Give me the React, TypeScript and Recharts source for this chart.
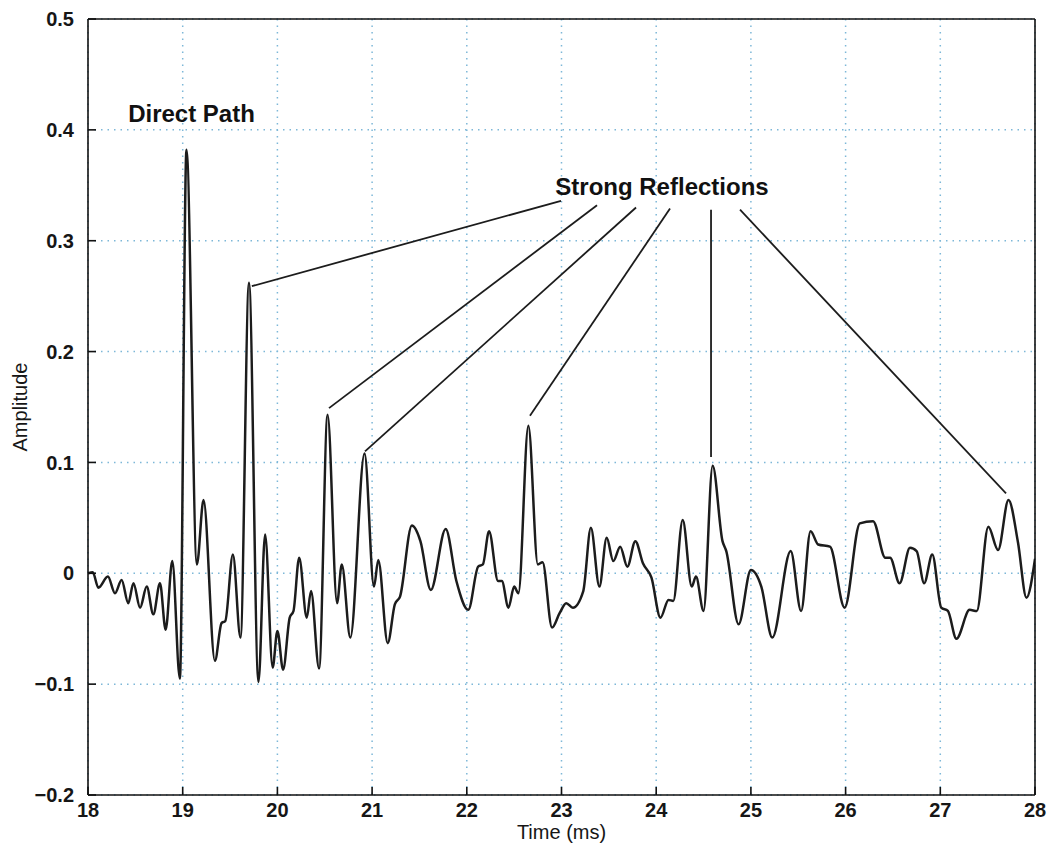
import React from 'react';
import {
  LineChart,
  Line,
  XAxis,
  YAxis,
  CartesianGrid,
  ReferenceLine,
  ReferenceDot,
  Label,
} from 'recharts';

// Time axis (ms) sample positions
const times = [
  18.0, 18.05, 18.11, 18.21, 18.285, 18.355, 18.425, 18.48, 18.55, 18.62, 18.69, 18.76, 18.82, 18.89,
  18.97, 19.04, 19.15, 19.22, 19.34, 19.41, 19.45, 19.53, 19.61, 19.7, 19.8, 19.87, 19.95, 20.0, 20.06,
  20.13, 20.17, 20.23, 20.31, 20.355, 20.44, 20.53, 20.63, 20.68, 20.77, 20.92, 21.02, 21.065, 21.165,
  21.24, 21.295, 21.42, 21.51, 21.62, 21.777, 21.89, 22.016, 22.12, 22.17, 22.235, 22.33, 22.37, 22.44,
  22.5, 22.545, 22.65, 22.75, 22.8, 22.9, 22.98, 23.05, 23.12, 23.23, 23.31, 23.4, 23.477, 23.547, 23.62,
  23.695, 23.78, 23.86, 23.95, 24.045, 24.13, 24.18, 24.28, 24.375, 24.42, 24.5, 24.596, 24.7, 24.74,
  24.87, 25.0, 25.11, 25.226, 25.42, 25.53, 25.63, 25.71, 25.835, 25.99, 26.15, 26.29, 26.42, 26.47,
  26.57, 26.68, 26.75, 26.83, 26.915, 27.01, 27.08, 27.17, 27.31, 27.385, 27.507, 27.61, 27.72, 27.82,
  27.91, 28.0,
];

// Amplitude values at those times
const amplitudes = [
  0.0, 0.001, -0.013, -0.003, -0.018, -0.006, -0.027, -0.009, -0.031, -0.012, -0.037, -0.009, -0.051, 0.011,
  -0.095, 0.382, 0.008, 0.066, -0.079, -0.045, -0.043, 0.017, -0.058, 0.262, -0.098, 0.035, -0.085, -0.052, -0.087,
  -0.04, -0.034, 0.014, -0.04, -0.016, -0.086, 0.143, -0.027, 0.008, -0.058, 0.108, -0.012, 0.012, -0.063,
  -0.028, -0.021, 0.043, 0.029, -0.015, 0.04, -0.007, -0.033, 0.006, 0.008, 0.038, -0.007, -0.007, -0.031,
  -0.012, -0.018, 0.133, 0.008, 0.01, -0.049, -0.036, -0.027, -0.031, -0.016, 0.041, -0.012, 0.032, 0.011, 0.024,
  0.006, 0.029, 0.009, -0.004, -0.04, -0.024, -0.025, 0.048, -0.012, -0.003, -0.034, 0.097, 0.029, 0.02,
  -0.046, 0.003, -0.012, -0.058, 0.02, -0.034, 0.038, 0.026, 0.024, -0.031, 0.045, 0.047, 0.014, 0.014,
  -0.009, 0.023, 0.02, -0.009, 0.017, -0.031, -0.034, -0.059, -0.033, -0.034, 0.042, 0.021, 0.066, 0.028,
  -0.022, 0.013,
];

const xTicks = [18, 19, 20, 21, 22, 23, 24, 25, 26, 27, 28];
const yTicks = [-0.2, -0.1, 0, 0.1, 0.2, 0.3, 0.4, 0.5];

// Annotations (data coordinates)
const directPathText = 'Direct Path';
const directPathPos = [19.093, 0.415];
const reflectionsText = 'Strong Reflections';
const reflectionsPos = [24.061, 0.349];
const reflectionStartX = [22.995, 23.375, 23.787, 24.146, 24.579, 24.885];
const reflectionStartY = [0.336, 0.332, 0.33, 0.329, 0.328, 0.328];
const reflectionEndX = [19.73, 20.545, 20.925, 22.667, 24.579, 27.694];
const reflectionEndY = [0.259, 0.149, 0.11, 0.142, 0.105, 0.072];

const data = times.map((t, i) => ({ t, a: amplitudes[i] }));

const FONT = '"Liberation Sans", Arial, Helvetica, sans-serif';
const tickStyle = { fontFamily: FONT, fontSize: 20, fontWeight: 'bold', fill: '#161616' };

const fmtY = (v: number) => {
  if (Math.abs(v) < 1e-9) return '0';
  const s = v.toFixed(1);
  return v < 0 ? '\u2212' + s.slice(1) : s;
};

export default function App() {
  return (
    <div style={{ width: 1039, height: 836, background: '#fff' }}>
      <LineChart
        width={1039}
        height={836}
        data={data}
        margin={{ top: 11, right: 12, left: 4, bottom: 0 }}
      >
        <CartesianGrid
          stroke="#7db7d8"
          strokeWidth={1.5}
          strokeDasharray="1.5 5"
          horizontalValues={yTicks}
          verticalValues={xTicks}
        />
        <XAxis
          dataKey="t"
          type="number"
          domain={[18, 28]}
          ticks={xTicks}
          allowDataOverflow
          height={49}
          tickSize={-8}
          tickMargin={16}
          stroke="#111"
          strokeWidth={1.6}
          tick={tickStyle}
          interval={0}
        >
          <Label value="Time (ms)" position="insideBottom" offset={5} fontFamily={FONT} fontSize={20} fill="#161616" />
        </XAxis>
        <XAxis
          xAxisId="top"
          orientation="top"
          mirror
          dataKey="t"
          type="number"
          domain={[18, 28]}
          ticks={xTicks}
          allowDataOverflow
          tick={false}
          tickSize={8}
          stroke="#111"
          strokeWidth={1.6}
          interval={0}
        />
        <YAxis
          type="number"
          domain={[-0.2, 0.5]}
          ticks={yTicks}
          allowDataOverflow
          width={76}
          tickSize={-8}
          tickMargin={22}
          stroke="#111"
          strokeWidth={1.6}
          tick={tickStyle}
          tickFormatter={fmtY}
          interval={0}
        >
          <Label
            value="Amplitude"
            angle={-90}
            position="insideLeft"
            offset={8}
            fontFamily={FONT}
            fontSize={20}
            fill="#161616"
            style={{ textAnchor: 'middle' }}
          />
        </YAxis>
        <YAxis
          yAxisId="right"
          orientation="right"
          mirror
          type="number"
          domain={[-0.2, 0.5]}
          ticks={yTicks}
          allowDataOverflow
          tick={false}
          tickSize={8}
          stroke="#111"
          strokeWidth={1.6}
          interval={0}
        />
        <Line
          type="monotone"
          dataKey="a"
          stroke="#1c1c1c"
          strokeWidth={2.5}
          dot={false}
          isAnimationActive={false}
        />
        {reflectionStartX.map((sx, i) => (
          <ReferenceLine
            key={i}
            segment={[
              { x: sx, y: reflectionStartY[i] },
              { x: reflectionEndX[i], y: reflectionEndY[i] },
            ]}
            stroke="#1c1c1c"
            strokeWidth={1.8}
            ifOverflow="visible"
          />
        ))}
        <ReferenceDot
          x={directPathPos[0]}
          y={directPathPos[1]}
          r={0}
          fill="none"
          stroke="none"
          ifOverflow="visible"
          label={{
            value: directPathText,
            position: 'center',
            fontFamily: FONT,
            fontSize: 24,
            fontWeight: 'bold',
            fill: '#111',
          }}
        />
        <ReferenceDot
          x={reflectionsPos[0]}
          y={reflectionsPos[1]}
          r={0}
          fill="none"
          stroke="none"
          ifOverflow="visible"
          label={{
            value: reflectionsText,
            position: 'center',
            fontFamily: FONT,
            fontSize: 24,
            fontWeight: 'bold',
            fill: '#111',
          }}
        />
      </LineChart>
    </div>
  );
}
